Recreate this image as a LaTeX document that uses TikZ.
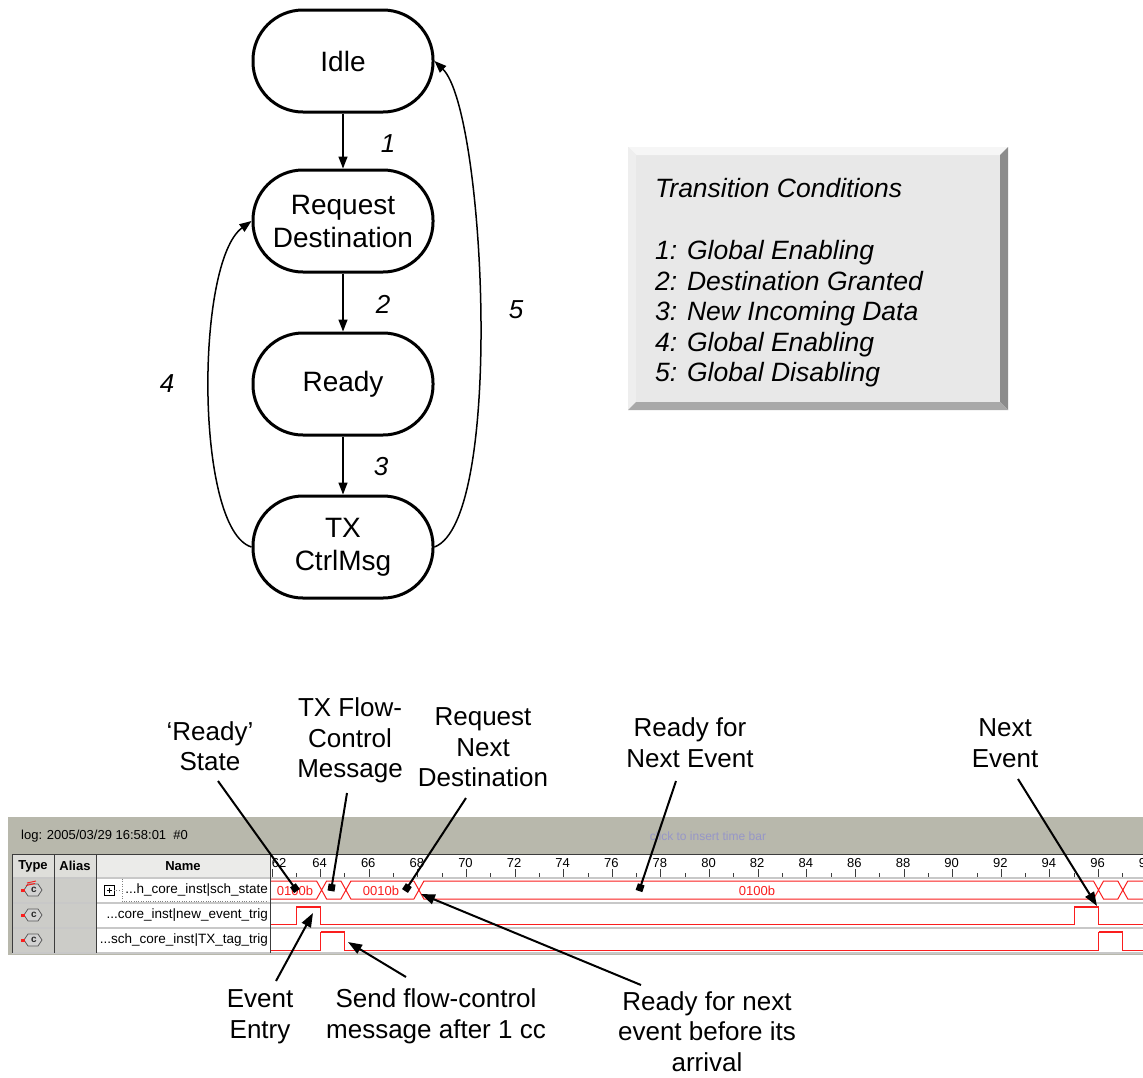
\documentclass[tikz,border=0pt]{standalone}
\usepackage{fontspec}
\setmainfont{Liberation Sans}
\usetikzlibrary{arrows.meta}

\definecolor{wingray}{RGB}{184,184,172}
\definecolor{cellgray}{RGB}{204,204,200}
\definecolor{hdrgray}{RGB}{222,222,218}
\definecolor{sepgray}{RGB}{200,200,200}
\definecolor{sigred}{RGB}{250,30,30}
\definecolor{clickblue}{RGB}{150,150,200}
\definecolor{legface}{RGB}{232,232,232}
\definecolor{legtop}{RGB}{246,246,246}
\definecolor{legleft}{RGB}{238,238,238}
\definecolor{legright}{RGB}{140,140,140}
\definecolor{legbottom}{RGB}{168,168,168}
\definecolor{griddark}{RGB}{60,60,60}

\begin{document}
\begin{tikzpicture}[x=1pt,y=-1pt,
  state/.style={draw, line width=3pt, rounded corners=50pt, minimum width=180pt,
    minimum height=102pt, inner sep=0pt, align=center,
    font=\fontsize{28}{33}\selectfont},
  trans/.style={line width=1.5pt, -{Triangle[length=12pt,width=9pt]}},
  cond/.style={font=\fontsize{26}{30}\selectfont\itshape, inner sep=0pt},
  legtxt/.style={font=\fontsize{26.5}{30.5}\selectfont\itshape, inner sep=0pt, anchor=base west},
  ann/.style={align=center, inner sep=0pt, font=\fontsize{26}{30.5}\selectfont},
  pointer/.style={line width=2pt, -{Triangle[length=14pt,width=10pt]}},
  marker/.style={line width=2pt, -{Square[length=7pt,width=7pt]}},
  sig/.style={draw=sigred, line width=1pt},
  sighigh/.style={draw=sigred, line width=2.2pt},
  small/.style={inner sep=0pt, font=\fontsize{13}{15}\selectfont},
  tick/.style={draw=griddark, line width=1pt},
]
\useasboundingbox (0,0) rectangle (1143,1077);
\fill[white] (0,0) rectangle (1143,1077);

% ---------------- state machine ----------------
\node[state] (idle)  at (343,61)  {Idle};
\node[state] (req)   at (343,221) {Request\\Destination};
\node[state] (ready) at (343,384) {Ready};
\node[state] (tx)    at (343,547) {TX\\CtrlMsg};

\draw[trans] (idle) -- (req);
\draw[trans] (req) -- (ready);
\draw[trans] (ready) -- (tx);
\draw[trans] (tx.west) .. controls (195,530) and (195,262) .. (req.west);
\draw[trans] (tx.east) .. controls (505,520) and (485,110) .. (idle.east);

\node[cond] (t1) at (388,144) {1};
\node[cond] (t2) at (383,304) {2};
\node[cond] (t3) at (381,467) {3};
\node[cond] (t4) at (167,384) {4};
\node[cond] (t5) at (516,310) {5};

% ---------------- legend panel ----------------
\fill[legface] (628,147) rectangle (1008,410);
\fill[legtop] (628,147) -- (1008,147) -- (1000,155) -- (636,155) -- cycle;
\fill[legleft] (628,147) -- (636,155) -- (636,402) -- (628,410) -- cycle;
\fill[legright] (1008,147) -- (1008,410) -- (1000,402) -- (1000,155) -- cycle;
\fill[legbottom] (628,410) -- (1008,410) -- (1000,402) -- (636,402) -- cycle;
\node[legtxt] (lg0) at (655,197.5) {Transition Conditions};
\node[legtxt] (lg1) at (655,259.5) {1: Global Enabling};
\node[legtxt] (lg2) at (655,290)   {2: Destination Granted};
\node[legtxt] (lg3) at (655,320.5) {3: New Incoming Data};
\node[legtxt] (lg4) at (655,351)   {4: Global Enabling};
\node[legtxt] (lg5) at (655,381.5) {5: Global Disabling};

% ---------------- waveform window ----------------
\fill[wingray] (8,817) rectangle (1143,955);
\node[small, anchor=west] (logtxt) at (21,836) {log: 2005/03/29 16:58:01\ \ \#0};
\node[small, text=clickblue, font=\fontsize{12}{14}\selectfont] (clk) at (708,836) {click to insert time bar};

% table cells
\fill[hdrgray] (12,854) rectangle (96,877);
\fill[hdrgray!60!white] (96,854) rectangle (270,877);
\fill[white] (270,854) rectangle (1143,877);
\fill[cellgray] (12,877) rectangle (96,953);
\fill[white] (96,877) rectangle (1143,953);

% row separators
\foreach \yy in {878,903,928,953}
  \draw[sepgray, line width=2pt] (12,\yy) -- (1143,\yy);

% header labels
\node[small, font=\fontsize{13}{15}\selectfont\bfseries] (hType)  at (33,866) {Type};
\node[small, font=\fontsize{13}{15}\selectfont\bfseries] (hAlias) at (75,866) {Alias};
\node[small, font=\fontsize{13}{15}\selectfont\bfseries] (hName)  at (183,866) {Name};

% time ruler
\begin{scope}
  \clip (270,854) rectangle (1143,877);
  \node[small] (r62) at (279,863) {62};
  \foreach \k in {64,66,...,98} {
    \pgfmathsetmacro\xx{272+(\k-62)*24.31}
    \node[small] (r\k) at (\xx-1,863) {\k};
  }
  \foreach \k in {62,64,...,98} {
    \pgfmathsetmacro\xx{272+(\k-62)*24.31}
    \draw[tick] (\xx,869) -- (\xx,877);
  }
  \foreach \k in {63,65,...,97} {
    \pgfmathsetmacro\xx{272+(\k-62)*24.31}
    \draw[tick] (\xx,873) -- (\xx,877);
  }
\end{scope}

% grid lines
\draw[griddark, line width=1pt] (12,854) -- (1143,854);
\foreach \xx in {12,54,96,270}
  \draw[griddark, line width=1pt] (\xx,854) -- (\xx,953);

% signal type icons
\foreach \yy/\nm in {890/a,915/b,940/c} {
  \filldraw[fill=gray!35, draw=gray!70!black, line width=0.8pt]
    (24,\yy) -- (28,\yy-6) -- (38,\yy-6) -- (42,\yy) -- (38,\yy+6) -- (28,\yy+6) -- cycle;
  \node[inner sep=0pt, font=\fontsize{10}{10}\selectfont\bfseries, text=gray!30!black] (ic\nm) at (34,\yy) {c};
  \fill[sigred] (21,\yy-1.5) rectangle (25,\yy+1.5);
}
\draw[sigred, line width=1pt] (27,883) -- (36,881);
\draw[sigred, line width=1pt] (26,885.5) -- (35,883.5);

% signal names
\draw (104,885) rectangle (114,895);
\draw (106.5,890) -- (111.5,890) (109,887.5) -- (109,892.5);
\draw[dotted, gray] (114,890) -- (121,890);
\draw[dotted, gray] (122,879) -- (122,901) -- (268,901);
\node[small, anchor=east, font=\fontsize{13.5}{15}\selectfont] (n1) at (268,890) {...h\_core\_inst|sch\_state};
\node[small, anchor=east, font=\fontsize{13.5}{15}\selectfont] (n2) at (268,915) {...core\_inst|new\_event\_trig};
\node[small, anchor=east, font=\fontsize{13.5}{15}\selectfont] (n3) at (268,940) {...sch\_core\_inst|TX\_tag\_trig};

% bus sch_state
\draw[sig] (271,881) -- (316.6,881) -- (321.6,890) -- (326.6,881) -- (340.9,881) -- (345.9,890)
  -- (350.9,881) -- (413.9,881) -- (418.9,890) -- (423.9,881) -- (1093.5,881) -- (1098.5,890)
  -- (1103.5,881) -- (1117.8,881) -- (1122.8,890) -- (1127.8,881) -- (1143,881);
\draw[sig] (271,899) -- (316.6,899) -- (321.6,890) -- (326.6,899) -- (340.9,899) -- (345.9,890)
  -- (350.9,899) -- (413.9,899) -- (418.9,890) -- (423.9,899) -- (1093.5,899) -- (1098.5,890)
  -- (1103.5,899) -- (1117.8,899) -- (1122.8,890) -- (1127.8,899) -- (1143,899);
\node[small, text=sigred] (v1) at (295,891) {0100b};
\node[small, text=sigred] (v2) at (381,891) {0010b};
\node[small, text=sigred] (v3) at (757,891) {0100b};

% new_event_trig
\draw[sig] (271,924) -- (296.3,924) -- (296.3,907) -- (320.6,907) -- (320.6,924) -- (1074.2,924)
  -- (1074.2,907) -- (1098.5,907) -- (1098.5,924) -- (1143,924);
\draw[sighigh] (296.3,907) -- (320.6,907) (1074.2,907) -- (1098.5,907);

% TX_tag_trig
\draw[sig] (271,950) -- (320.6,950) -- (320.6,932) -- (344.9,932) -- (344.9,950) -- (1098.5,950)
  -- (1098.5,932) -- (1122.8,932) -- (1122.8,950) -- (1143,950);
\draw[sighigh] (320.6,932) -- (344.9,932) (1098.5,932) -- (1122.8,932);

% ---------------- annotations ----------------
\node[ann] (aready) at (210,746)   {‘Ready’\\State};
\node[ann] (aflow)  at (350,740.5) {TX Flow-\\Control\\Message};
\node[ann] (areq)   at (483,747.5) {Request\\Next\\Destination};
\node[ann] (arfne)  at (690,742.5) {Ready for\\Next Event};
\node[ann] (anext)  at (1005,743)  {Next\\Event};
\node[ann] (aentry) at (260,1016.5){Event\\Entry};
\node[ann] (asend)  at (436,1016.5){Send flow-control\\message after 1 cc};
\node[ann] (abefore) at (707,1031.5){Ready for next\\event before its\\arrival};

\coordinate (readyS)  at (218,781);  \coordinate (readyT)  at (297,891);
\coordinate (flowS)   at (347,793);  \coordinate (flowT)   at (331,891);
\coordinate (reqS)    at (466,798);  \coordinate (reqT)    at (405,891);
\coordinate (rfneS)   at (676,781);  \coordinate (rfneT)   at (639,891);
\coordinate (nextS)   at (1018,779); \coordinate (nextT)   at (1097,906);
\coordinate (entryS)  at (276,981);  \coordinate (entryT)  at (313,913);
\coordinate (sendS)   at (406,977);  \coordinate (sendT)   at (348,942);
\coordinate (beforeS) at (641,985);  \coordinate (beforeT) at (421,894);

\draw[marker] (readyS) -- (readyT);
\draw[marker] (flowS) -- (flowT);
\draw[marker] (reqS) -- (reqT);
\draw[marker] (rfneS) -- (rfneT);
\draw[pointer] (nextS) -- (nextT);
\draw[pointer] (entryS) -- (entryT);
\draw[pointer] (sendS) -- (sendT);
\draw[pointer] (beforeS) -- (beforeT);
\end{tikzpicture}
\end{document}
